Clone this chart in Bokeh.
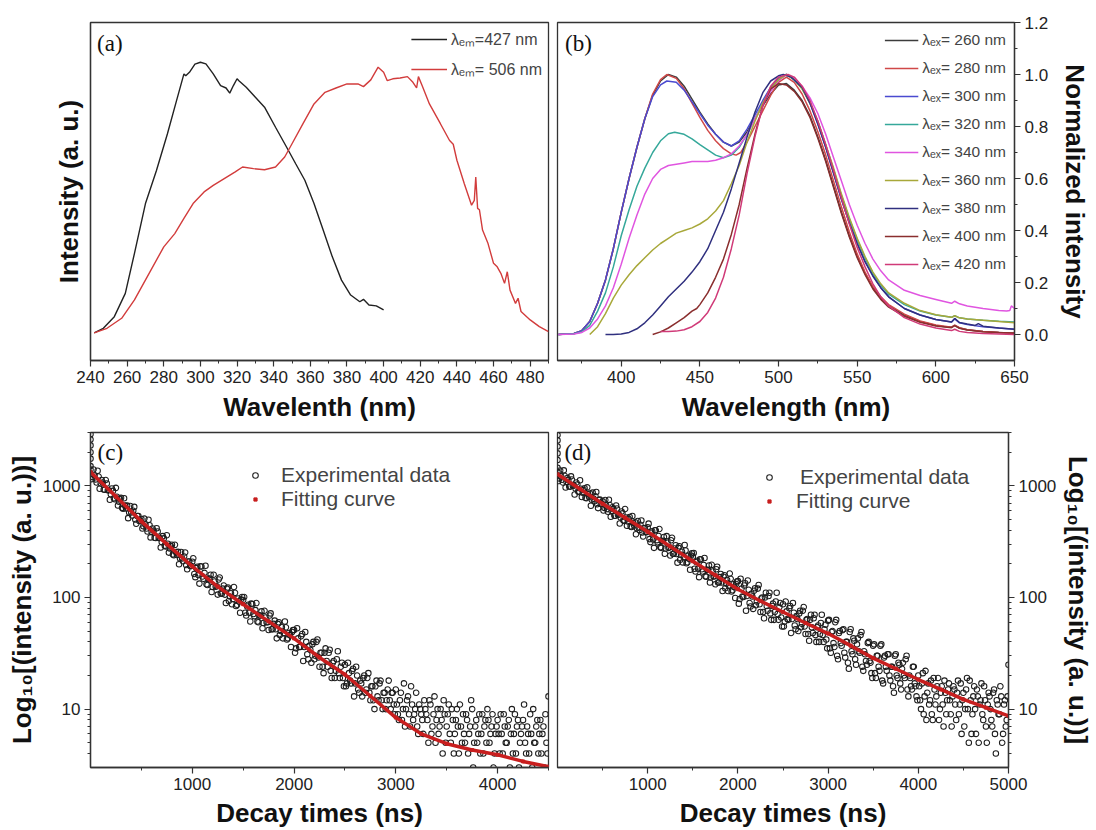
from bokeh.plotting import figure
from bokeh.layouts import column, row
from bokeh.models import (FixedTicker, Legend, LegendItem, Label, Range1d,
                          PrintfTickFormatter, NumeralTickFormatter)
from bokeh.embed import file_html
from bokeh.resources import INLINE

SANS = "Liberation Sans"
SERIF = "Liberation Serif"
INK = "#333333"

# ---------------- (a) excitation spectra ----------------
a_black_x = [242, 247, 253, 259, 264, 270, 276, 282, 287, 291, 292, 294, 297, 300, 303, 307, 311, 314, 316, 318,
             320, 321, 325, 330, 335, 341, 347, 352, 357, 362, 367, 372, 377, 382, 387, 389, 392, 396, 400]
a_black_y = [0, 0.017, 0.06, 0.146, 0.294, 0.478, 0.60, 0.736, 0.859, 0.957, 0.95, 0.963, 0.993, 1.0, 0.994, 0.957,
             0.914, 0.905, 0.886, 0.914, 0.939, 0.932, 0.908, 0.871, 0.834, 0.760, 0.687, 0.625, 0.564, 0.478, 0.380,
             0.281, 0.195, 0.140, 0.115, 0.124, 0.103, 0.10, 0.085]
a_red_x = [242, 249, 257, 264, 272, 280, 286, 291, 296, 302, 307, 313, 319, 323, 329, 335, 341, 346, 350, 356,
           362, 368, 374, 380, 386, 389, 393, 397, 400, 402, 405, 409, 413, 416, 418, 419, 421, 425, 431, 436,
           438, 440, 444, 448, 449.5, 450.3, 451.3, 452.3, 454, 457, 460, 462, 464, 466, 467.5, 469, 472, 473.4,
           475, 480, 485, 490]
a_red_y = [0, 0.017, 0.054, 0.122, 0.22, 0.318, 0.367, 0.423, 0.478, 0.521, 0.545, 0.570, 0.595, 0.613, 0.607,
           0.603, 0.613, 0.65, 0.699, 0.773, 0.846, 0.889, 0.905, 0.92, 0.92, 0.91, 0.935, 0.982, 0.963, 0.932,
           0.939, 0.942, 0.947, 0.926, 0.905, 0.947, 0.914, 0.846, 0.773, 0.711, 0.697, 0.638, 0.552, 0.472, 0.49,
           0.576, 0.46, 0.455, 0.38, 0.33, 0.257, 0.244, 0.22, 0.183, 0.226, 0.158, 0.109, 0.128, 0.079, 0.048,
           0.023, 0.005]
a_labels = ["λₑₘ=427 nm", "λₑₘ= 506 nm"]
a_ticks = [240, 260, 280, 300, 320, 340, 360, 380, 400, 420, 440, 460, 480]

# ---------------- (b) emission spectra ----------------
b_labels = ["λₑₓ= 260 nm", "λₑₓ= 280 nm", "λₑₓ= 300 nm", "λₑₓ= 320 nm", "λₑₓ= 340 nm",
            "λₑₓ= 360 nm", "λₑₓ= 380 nm", "λₑₓ= 400 nm", "λₑₓ= 420 nm"]
b_colors = ["#3c3c3c", "#d04848", "#4a4ad0", "#35a89a", "#e055e0", "#a8a83a", "#30307f", "#8a2e2e", "#d03a78"]
b260_x = [360, 370, 375, 380, 385, 390, 395, 400, 405, 410, 415, 420, 425, 430, 435, 440, 445, 450, 455, 460,
          465, 470, 475, 480, 485, 490, 495, 500, 505, 510, 515, 520, 525, 530, 535, 540, 545, 550, 555, 560,
          565, 570, 580, 590, 600, 605, 610, 612, 615, 620, 630, 640, 650]
b260_y = [0, 0.004, 0.015, 0.05, 0.12, 0.21, 0.33, 0.47, 0.6, 0.72, 0.83, 0.92, 0.975, 1.0, 0.99, 0.955, 0.905,
          0.855, 0.81, 0.77, 0.74, 0.725, 0.74, 0.78, 0.83, 0.88, 0.925, 0.96, 0.965, 0.94, 0.9, 0.84, 0.76, 0.67,
          0.57, 0.47, 0.38, 0.3, 0.235, 0.18, 0.14, 0.11, 0.075, 0.05, 0.035, 0.031, 0.028, 0.035, 0.025, 0.018,
          0.012, 0.008, 0.006]
b280_x = [360, 370, 375, 380, 385, 390, 395, 400, 405, 410, 415, 420, 425, 429, 435, 440, 445, 450, 455, 460,
          465, 470, 473, 476, 480, 485, 490, 495, 500, 505, 510, 515, 520, 525, 530, 535, 540, 545, 550, 555,
          560, 565, 570, 580, 590, 600, 610, 612, 615, 620, 630, 640, 650]
b280_y = [0, 0.004, 0.015, 0.05, 0.12, 0.21, 0.33, 0.47, 0.6, 0.72, 0.83, 0.925, 0.98, 1.0, 0.985, 0.945, 0.89,
          0.835, 0.785, 0.745, 0.715, 0.695, 0.69, 0.7, 0.74, 0.8, 0.86, 0.92, 0.97, 0.99, 0.97, 0.925, 0.86, 0.78,
          0.69, 0.59, 0.49, 0.395, 0.31, 0.24, 0.185, 0.145, 0.115, 0.078, 0.052, 0.037, 0.028, 0.036, 0.026,
          0.018, 0.012, 0.008, 0.005]
b300_x = [360, 370, 375, 380, 385, 390, 395, 400, 405, 410, 415, 420, 425, 429, 435, 440, 445, 450, 455, 460,
          465, 470, 475, 480, 485, 490, 495, 500, 505, 510, 515, 520, 525, 530, 535, 540, 545, 550, 555, 560,
          565, 570, 580, 590, 600, 610, 612, 615, 620, 630, 640, 650]
b300_y = [0, 0.004, 0.015, 0.05, 0.12, 0.21, 0.33, 0.47, 0.6, 0.72, 0.83, 0.915, 0.96, 0.975, 0.97, 0.94, 0.895,
          0.85, 0.805, 0.77, 0.74, 0.725, 0.745, 0.79, 0.845, 0.9, 0.95, 0.985, 1.0, 0.985, 0.95, 0.89, 0.81, 0.72,
          0.62, 0.52, 0.43, 0.35, 0.28, 0.225, 0.18, 0.145, 0.1, 0.075, 0.058, 0.048, 0.06, 0.045, 0.038, 0.03,
          0.025, 0.02]
b320_x = [360, 370, 375, 380, 385, 390, 395, 400, 405, 410, 415, 420, 425, 430, 434, 440, 445, 450, 455, 460,
          465, 470, 475, 480, 485, 490, 495, 500, 505, 510, 515, 520, 525, 530, 535, 540, 545, 550, 555, 560,
          565, 570, 580, 590, 600, 610, 612, 615, 620, 630, 640, 650]
b320_y = [0, 0.003, 0.01, 0.035, 0.09, 0.16, 0.26, 0.38, 0.48, 0.57, 0.64, 0.7, 0.745, 0.772, 0.778, 0.77, 0.752,
          0.73, 0.71, 0.69, 0.68, 0.69, 0.72, 0.77, 0.83, 0.89, 0.94, 0.98, 1.0, 0.98, 0.945, 0.89, 0.82, 0.73,
          0.635, 0.535, 0.445, 0.365, 0.295, 0.235, 0.19, 0.155, 0.115, 0.09, 0.075, 0.066, 0.072, 0.064, 0.06,
          0.055, 0.051, 0.048]
b340_x = [360, 370, 375, 380, 385, 390, 395, 400, 405, 410, 415, 420, 425, 430, 435, 440, 445, 450, 455, 460,
          465, 470, 475, 480, 485, 490, 495, 500, 505, 510, 515, 520, 525, 530, 535, 540, 545, 550, 555, 560,
          565, 570, 580, 590, 600, 610, 612, 615, 620, 630, 640, 645, 647, 648, 650]
b340_y = [0, 0.002, 0.008, 0.025, 0.06, 0.11, 0.18, 0.27, 0.37, 0.46, 0.54, 0.6, 0.635, 0.65, 0.655, 0.66, 0.665,
          0.665, 0.665, 0.67, 0.68, 0.695, 0.725, 0.77, 0.83, 0.885, 0.935, 0.975, 1.0, 0.985, 0.955, 0.91, 0.85,
          0.77, 0.68, 0.59, 0.5, 0.42, 0.35, 0.29, 0.245, 0.21, 0.17, 0.15, 0.135, 0.12, 0.128, 0.118, 0.11, 0.1,
          0.092, 0.09, 0.092, 0.11, 0.1]
b360_x = [380, 385, 390, 395, 400, 405, 410, 415, 420, 425, 430, 435, 440, 445, 450, 455, 460, 465, 470, 475,
          480, 485, 490, 495, 500, 505, 510, 515, 520, 525, 530, 535, 540, 545, 550, 555, 560, 565, 570, 580,
          590, 600, 610, 612, 615, 620, 630, 640, 650]
b360_y = [0, 0.03, 0.08, 0.14, 0.19, 0.23, 0.265, 0.295, 0.325, 0.35, 0.37, 0.39, 0.4, 0.41, 0.425, 0.445, 0.475,
          0.515, 0.58, 0.65, 0.74, 0.82, 0.89, 0.945, 0.98, 1.0, 0.98, 0.945, 0.89, 0.82, 0.73, 0.64, 0.54, 0.45,
          0.37, 0.3, 0.24, 0.195, 0.16, 0.12, 0.092, 0.076, 0.066, 0.072, 0.064, 0.06, 0.055, 0.05, 0.045]
b380_x = [390, 395, 400, 405, 410, 415, 420, 425, 430, 435, 440, 445, 450, 455, 460, 465, 470, 475, 480, 485,
          490, 495, 500, 503, 508, 515, 520, 525, 530, 535, 540, 545, 550, 555, 560, 565, 570, 580, 590, 600,
          610, 612, 615, 620, 625, 627, 630, 640, 650]
b380_y = [0, 0.0, 0.002, 0.008, 0.022, 0.045, 0.075, 0.11, 0.145, 0.175, 0.205, 0.24, 0.28, 0.33, 0.4, 0.47,
          0.56, 0.66, 0.76, 0.855, 0.93, 0.975, 0.995, 1.0, 0.99, 0.95, 0.89, 0.81, 0.72, 0.62, 0.52, 0.43, 0.35,
          0.28, 0.225, 0.18, 0.145, 0.1, 0.075, 0.058, 0.048, 0.062, 0.046, 0.04, 0.035, 0.042, 0.032, 0.025, 0.02]
b400_x = [420, 425, 430, 435, 440, 445, 448, 450, 455, 460, 465, 470, 475, 480, 485, 490, 495, 500, 505, 510,
          515, 520, 525, 530, 535, 540, 545, 550, 555, 560, 565, 570, 580, 590, 600, 610, 612, 615, 620, 630,
          640, 650]
b400_y = [0, 0.01, 0.025, 0.045, 0.065, 0.09, 0.1, 0.115, 0.16, 0.22, 0.29, 0.385, 0.5, 0.64, 0.77, 0.88, 0.945,
          0.965, 0.96, 0.935, 0.895, 0.835, 0.755, 0.665, 0.565, 0.465, 0.375, 0.295, 0.23, 0.175, 0.135, 0.105,
          0.07, 0.047, 0.033, 0.026, 0.034, 0.024, 0.017, 0.011, 0.008, 0.005]
b420_x = [425, 430, 435, 440, 445, 450, 455, 460, 465, 470, 475, 480, 485, 490, 495, 500, 506, 510, 515, 520,
          525, 530, 535, 540, 545, 550, 555, 560, 565, 570, 580, 590, 600, 610, 612, 615, 620, 630, 640, 650]
b420_y = [0.012, 0.012, 0.013, 0.018, 0.03, 0.05, 0.085, 0.14, 0.22, 0.33, 0.46, 0.62, 0.76, 0.88, 0.955, 0.99,
          1.0, 0.99, 0.955, 0.9, 0.82, 0.73, 0.63, 0.525, 0.425, 0.335, 0.26, 0.195, 0.145, 0.11, 0.065, 0.04,
          0.025, 0.015, 0.02, 0.012, 0.008, 0.004, 0.002, 0.0]
b_x = [b260_x, b280_x, b300_x, b320_x, b340_x, b360_x, b380_x, b400_x, b420_x]
b_y = [b260_y, b280_y, b300_y, b320_y, b340_y, b360_y, b380_y, b400_y, b420_y]
b_xticks = [400, 450, 500, 550, 600, 650]
b_yticks = [0.0, 0.2, 0.4, 0.6, 0.8, 1.0, 1.2]

# ---------------- (c) decay: two interleaved channel sets (even / odd 10 ns) ----------------
c_t_even = list(range(0, 4501, 20))
c_counts_even = [1397, 1200, 1238, 1071, 1209, 1052, 1072, 920, 1046, 912,
                 840, 900, 758, 798, 721, 779, 623, 664, 664, 575,
                 576, 598, 499, 536, 484, 504, 434, 450, 390, 443,
                 387, 396, 340, 389, 341, 314, 338, 286, 302, 274,
                 297, 239, 255, 256, 223, 223, 233, 195, 210, 191,
                 209, 162, 183, 159, 190, 154, 166, 131, 147, 160,
                 124, 139, 126, 145, 109, 120, 106, 120, 93, 109,
                 97, 110, 86, 92, 96, 95, 73, 83, 73, 88,
                 71, 77, 61, 69, 75, 59, 66, 60, 69, 52,
                 58, 52, 58, 46, 54, 48, 54, 43, 46, 49,
                 51, 35, 43, 36, 47, 36, 40, 28, 34, 38,
                 28, 40, 29, 32, 24, 32, 27, 32, 22, 26,
                 19, 28, 21, 24, 19, 25, 17, 21, 17, 23,
                 17, 20, 14, 17, 19, 14, 19, 14, 16, 12,
                 16, 13, 17, 12, 14, 10, 15, 12, 14, 11,
                 15, 9, 12, 8, 17, 10, 13, 7, 11, 9,
                 14, 6, 10, 8, 12, 9, 5, 11, 7, 13,
                 8, 6, 10, 4, 9, 7, 11, 5, 8, 6,
                 10, 4, 7, 9, 5, 8, 6, 12, 3, 7,
                 5, 9, 6, 4, 8, 10, 5, 7, 3, 6,
                 8, 4, 6, 9, 5, 7, 3, 10, 6, 4,
                 8, 5, 7, 11, 4, 6, 9, 3, 5, 7,
                 4, 8, 6, 3, 5, 13]
c_t_odd = list(range(10, 4491, 20))
c_counts_odd = [1147, 1401, 1141, 1361, 941, 1127, 928, 1127, 912, 749,
                944, 774, 958, 666, 758, 635, 773, 625, 513, 660,
                541, 647, 457, 536, 485, 414, 508, 415, 497, 345,
                414, 343, 417, 340, 280, 354, 291, 361, 252, 288,
                243, 296, 240, 198, 255, 211, 253, 179, 210, 191,
                224, 152, 188, 133, 189, 147, 192, 129, 148, 112,
                160, 125, 106, 151, 108, 128, 89, 123, 102, 87,
                124, 84, 98, 73, 101, 101, 69, 86, 61, 87,
                68, 89, 60, 69, 53, 76, 60, 51, 72, 52,
                62, 43, 60, 50, 43, 61, 42, 48, 36, 51,
                32, 53, 36, 45, 27, 49, 31, 37, 26, 40,
                30, 42, 24, 32, 21, 35, 24, 34, 19, 27,
                22, 33, 19, 26, 16, 16, 26, 18, 22, 13,
                24, 15, 18, 13, 20, 15, 21, 12, 16, 10,
                18, 12, 18, 10, 14, 12, 18, 10, 14, 9,
                11, 8, 14, 10, 7, 12, 9, 16, 8, 10,
                7, 11, 9, 6, 10, 8, 12, 6, 9, 5,
                10, 7, 8, 12, 5, 9, 6, 10, 4, 8,
                7, 11, 5, 6, 9, 4, 7, 10, 5, 8,
                6, 4, 9, 7, 5, 8, 6, 9, 4, 7,
                6, 9, 4, 7, 5, 8, 6, 4, 9, 7,
                3, 6, 8, 5, 7, 4, 6, 10, 5, 8,
                6, 4, 7, 9, 4]
c_edge_counts = [1500, 1750, 2000, 2300, 2600, 2900]
c_fit_t = [0, 250, 500, 750, 1000, 1250, 1500, 1750, 2000, 2250, 2500, 2750, 3000, 3250, 3500, 3750, 4000, 4250, 4500]
c_fit = [1330, 800, 480, 300, 190, 125, 87, 61, 43, 29, 20.4, 13.1, 8.4, 6.0, 4.9, 4.3, 3.9, 3.4, 3.05]

# ---------------- (d) decay: two interleaved channel sets ----------------
d_t_even = list(range(0, 5001, 20))
d_counts_even = [1330, 1163, 1219, 1072, 1230, 1088, 1128, 983, 1137, 1008,
                 944, 1028, 881, 942, 866, 950, 773, 839, 852, 751,
                 764, 807, 684, 747, 687, 725, 634, 666, 586, 673,
                 596, 618, 539, 625, 554, 520, 566, 485, 520, 478,
                 526, 428, 465, 472, 417, 424, 448, 381, 416, 383,
                 426, 333, 380, 331, 400, 326, 355, 281, 319, 348,
                 274, 309, 281, 325, 246, 274, 245, 278, 218, 257,
                 229, 263, 207, 222, 237, 232, 181, 208, 181, 220,
                 179, 195, 155, 176, 193, 151, 171, 155, 179, 136,
                 152, 136, 153, 121, 143, 128, 147, 116, 124, 132,
                 140, 97, 120, 101, 134, 103, 117, 83, 102, 115,
                 85, 120, 87, 98, 74, 100, 84, 103, 72, 84,
                 63, 92, 71, 82, 66, 87, 61, 75, 63, 84,
                 64, 73, 52, 64, 72, 54, 76, 55, 63, 47,
                 63, 54, 65, 46, 54, 40, 59, 46, 52, 42,
                 62, 35, 49, 39, 60, 30, 48, 39, 51, 32,
                 40, 26, 49, 33, 43, 28, 38, 33, 46, 24,
                 33, 27, 39, 27, 21, 37, 21, 30, 24, 37,
                 18, 29, 24, 31, 20, 24, 16, 30, 20, 26,
                 17, 23, 20, 28, 15, 20, 16, 24, 17, 13,
                 20, 12, 17, 9, 22, 14, 11, 18, 8, 15,
                 13, 19, 10, 16, 7, 14, 12, 17, 9, 13,
                 15, 8, 18, 11, 6, 14, 10, 19, 5, 12,
                 9, 16, 6, 13, 11, 17, 8, 12, 5, 14,
                 10, 7, 15, 4, 11, 9, 13, 6, 12, 8,
                 25]
d_t_odd = list(range(10, 4991, 20))
d_counts_odd = [1102, 1369, 1133, 1374, 966, 1176, 985, 1214, 1000, 835,
                1070, 891, 1123, 794, 918, 782, 968, 796, 663, 868,
                725, 880, 631, 752, 692, 600, 746, 618, 750, 528,
                643, 540, 666, 549, 459, 589, 491, 619, 438, 507,
                433, 536, 441, 368, 483, 402, 489, 352, 419, 386,
                458, 313, 391, 278, 399, 312, 410, 278, 321, 246,
                354, 278, 237, 342, 246, 293, 205, 287, 241, 206,
                295, 202, 236, 177, 248, 250, 171, 213, 152, 219,
                171, 226, 153, 177, 136, 196, 154, 131, 188, 136,
                162, 114, 158, 133, 114, 164, 113, 131, 99, 139,
                88, 147, 102, 128, 76, 142, 89, 108, 79, 121,
                92, 129, 74, 100, 65, 110, 76, 110, 63, 88,
                74, 110, 63, 89, 55, 55, 92, 64, 80, 48,
                89, 56, 68, 50, 76, 58, 82, 47, 64, 41,
                70, 48, 70, 40, 56, 47, 70, 40, 57, 35,
                63, 32, 50, 36, 63, 28, 50, 37, 52, 29,
                40, 23, 52, 31, 41, 25, 43, 32, 49, 22,
                31, 25, 40, 26, 19, 38, 19, 30, 22, 38,
                17, 30, 22, 31, 18, 24, 14, 31, 19, 25,
                15, 26, 19, 30, 13, 19, 15, 24, 16, 12,
                16, 10, 21, 13, 8, 17, 12, 9, 19, 11,
                16, 8, 14, 11, 18, 9, 15, 12, 7, 16,
                11, 14, 9, 17, 12, 7, 15, 10, 18, 6,
                13, 10, 15, 5, 12, 9, 16, 7, 11, 13,
                8, 14, 6, 12, 9, 16, 5, 11, 7, 13]
d_edge_counts = [1450, 1700, 1950, 2250, 2550, 2850]
d_fit_t = [0, 250, 500, 750, 1000, 1250, 1500, 1750, 2000, 2250, 2500, 2750, 3000, 3250, 3500, 3750, 4000, 4250,
           4500, 4750, 5000]
d_fit = [1267, 935, 690, 517, 387, 286, 211, 158, 118.5, 93, 74, 59, 47.5, 37, 28.6, 23, 18.4, 15, 12.2, 10.3, 8.7]

log_major = [10, 100, 1000]
log_minor = [4, 5, 6, 7, 8, 9, 20, 30, 40, 50, 60, 70, 80, 90, 200, 300, 400, 500, 600, 700, 800, 900, 2000, 3000]
legend_cd = ["Experimental data", "Fitting curve"]
y_label_cd = "Log₁₀[(intensity (a. u.))]"


def style(p, xlabel_standoff):
    p.outline_line_color = INK
    p.outline_line_width = 1.3
    p.outline_line_alpha = 1.0
    p.xgrid.visible = False
    p.ygrid.visible = False
    for ax in p.axis:
        ax.axis_line_color = INK
        ax.axis_line_width = 1.3
        ax.major_tick_line_color = INK
        ax.minor_tick_line_color = INK
        ax.major_tick_line_width = 1.2
        ax.minor_tick_line_width = 1.0
        ax.major_tick_in = 0
        ax.major_tick_out = 6
        ax.minor_tick_in = 0
        ax.minor_tick_out = 3
        ax.major_label_text_font = SANS
        ax.major_label_text_font_size = "17px"
        ax.major_label_text_color = "#222222"
        ax.major_label_standoff = 4
        ax.axis_label_text_font = SANS
        ax.axis_label_text_font_style = "bold"
        ax.axis_label_text_font_size = "26px"
        ax.axis_label_text_color = "#111111"
        ax.axis_label_standoff = 4
    p.xaxis.axis_label_standoff = xlabel_standoff


def panel_label(p, x, y, text):
    p.add_layout(Label(x=x, y=y, text=text, text_font=SERIF, text_font_size="23px",
                       text_color="#111111", text_baseline="middle", text_align="left"))


common = dict(output_backend="svg", toolbar_location=None)

# (a)
pa = figure(width=552, height=424, x_range=Range1d(240, 490), y_range=Range1d(-0.102, 1.147),
            min_border_left=90, min_border_right=4, min_border_top=22, min_border_bottom=63, **common)
ra1 = pa.line(a_black_x, a_black_y, line_color="#222222", line_width=1.4)
ra2 = pa.line(a_red_x, a_red_y, line_color="#d23c3c", line_width=1.4)
style(pa, 6)
pa.xaxis.ticker = FixedTicker(ticks=a_ticks, minor_ticks=[t + 10 for t in a_ticks])
pa.yaxis.ticker = FixedTicker(ticks=[])
pa.yaxis.major_tick_out = 0
pa.yaxis.axis_label_standoff = 7
pa.xaxis.axis_label = "Wavelenth (nm)"
pa.yaxis.axis_label = "Intensity (a. u.)"
leg_a = Legend(items=[LegendItem(label=a_labels[0], renderers=[ra1]),
                      LegendItem(label=a_labels[1], renderers=[ra2])],
               location="top_right", background_fill_alpha=0, border_line_alpha=0,
               label_text_font=SANS, label_text_font_size="16px", glyph_width=36, glyph_height=20,
               label_height=20, spacing=8, padding=2, margin=4, label_standoff=4)
pa.add_layout(leg_a)
panel_label(pa, 243.6, 1.07, "(a)")

# (b)
pb = figure(width=544, height=424, x_range=Range1d(359.5, 650), y_range=Range1d(-0.1, 1.2),
            y_axis_location="right",
            min_border_left=5, min_border_right=82, min_border_top=22, min_border_bottom=63, **common)
b_items = []
for xs, ys, col, lab in zip(b_x, b_y, b_colors, b_labels):
    r = pb.line(xs, ys, line_color=col, line_width=1.5)
    b_items.append(LegendItem(label=lab, renderers=[r]))
style(pb, 6)
pb.xaxis.ticker = FixedTicker(ticks=b_xticks, minor_ticks=[t - 25 for t in b_xticks])
pb.yaxis.ticker = FixedTicker(ticks=b_yticks, minor_ticks=[t + 0.1 for t in b_yticks[:-1]])
pb.yaxis.formatter = NumeralTickFormatter(format="0.0")
pb.yaxis.axis_label_standoff = 9
pb.xaxis.axis_label = "Wavelength (nm)"
pb.yaxis.axis_label = "Normalized intensity"
leg_b = Legend(items=b_items, location="top_right", background_fill_alpha=0, border_line_alpha=0,
               label_text_font=SANS, label_text_font_size="15.5px", glyph_width=34, glyph_height=20,
               label_height=20, spacing=8, padding=2, margin=6, label_standoff=4)
pb.add_layout(leg_b)
panel_label(pb, 364.3, 1.12, "(b)")


def decay_panel(p, sets, edge, fit_t, fit, xticks, xminor, exp_loc, fit_loc, exp_standoff, fit_standoff):
    r_exp = None
    for t, counts in sets:
        r_exp = p.scatter(t, counts, marker="circle", size=5.5, fill_color=None,
                          line_color="#1e1e1e", line_width=1.05)
    p.scatter([0] * len(edge), edge, marker="circle", size=5.5, fill_color=None,
              line_color="#1e1e1e", line_width=1.05)
    p.line(fit_t, fit, line_color="#c81e1e", line_width=3.5)
    r_fit = p.scatter(fit_t, fit, marker="square", size=3, fill_color="#c81e1e", line_color="#c81e1e")
    style(p, 5)
    p.xaxis.ticker = FixedTicker(ticks=xticks, minor_ticks=xminor)
    p.yaxis.ticker = FixedTicker(ticks=log_major, minor_ticks=log_minor)
    p.yaxis.formatter = PrintfTickFormatter(format="%d")
    p.xaxis.axis_label = "Decay times (ns)"
    p.yaxis.axis_label = y_label_cd
    leg1 = Legend(items=[LegendItem(label=legend_cd[0], renderers=[r_exp])],
                  location=exp_loc, background_fill_alpha=0, border_line_alpha=0,
                  label_text_font=SANS, label_text_font_size="21px", glyph_width=14, glyph_height=14,
                  label_height=22, spacing=0, padding=2, margin=0, label_standoff=exp_standoff)
    leg2 = Legend(items=[LegendItem(label=legend_cd[1], renderers=[r_fit])],
                  location=fit_loc, background_fill_alpha=0, border_line_alpha=0,
                  label_text_font=SANS, label_text_font_size="21px", glyph_width=8, glyph_height=8,
                  label_height=22, spacing=0, padding=2, margin=0, label_standoff=fit_standoff)
    p.add_layout(leg1)
    p.add_layout(leg2)


# (c)
pc = figure(width=552, height=406, x_range=Range1d(0, 4500), y_range=Range1d(3, 3000), y_axis_type="log",
            min_border_left=90, min_border_right=4, min_border_top=8, min_border_bottom=60, **common)
decay_panel(pc, [(c_t_even, c_counts_even), (c_t_odd, c_counts_odd)], c_edge_counts, c_fit_t, c_fit,
            [1000, 2000, 3000, 4000], [500, 1500, 2500, 3500, 4500], (156, 278), (159, 254), 19, 22)
pc.yaxis.axis_label_standoff = 3
panel_label(pc, 69, 2000, "(c)")

# (d)
pd = figure(width=544, height=406, x_range=Range1d(0, 5000), y_range=Range1d(3, 3000), y_axis_type="log",
            y_axis_location="right",
            min_border_left=5, min_border_right=82, min_border_top=8, min_border_bottom=60, **common)
decay_panel(pd, [(d_t_even, d_counts_even), (d_t_odd, d_counts_odd)], d_edge_counts, d_fit_t, d_fit,
            [1000, 2000, 3000, 4000, 5000], [500, 1500, 2500, 3500, 4500], (203, 276), (206, 252), 24, 23)
pd.yaxis.axis_label_standoff = 4
panel_label(pd, 77, 2000, "(d)")

layout = column(row(pa, pb), row(pc, pd))
open("out.html", "w").write(file_html(layout, INLINE))
